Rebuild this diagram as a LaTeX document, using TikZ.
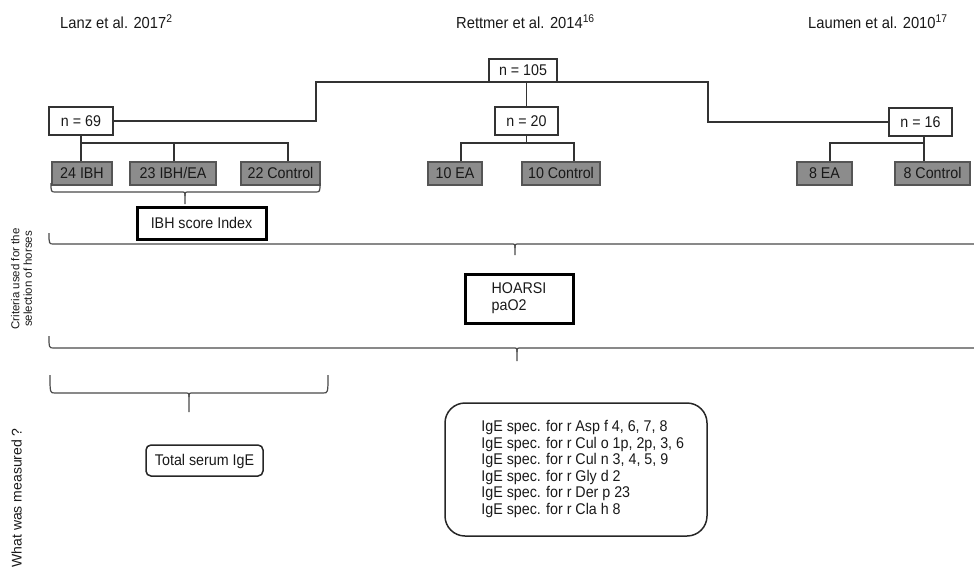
\documentclass[tikz,border=0pt]{standalone}
\usepackage{fontspec}
\usepackage{graphicx}
\setmainfont{Liberation Sans}
\definecolor{boxgrey}{HTML}{8C8C8C}
\definecolor{boxedge}{HTML}{555555}
\definecolor{lncol}{HTML}{333333}
\definecolor{brcol}{HTML}{4A4A4A}
\newcommand{\sq}[1]{\scalebox{0.92}[1]{#1}}
\newcommand{\mybrace}[6]{%
  \draw[brc] (#1,#3) .. controls (#1,#4) .. ({#1+5},#4) -- ({#5-4},#4)
    .. controls (#5,#4) .. (#5,{#4+4}) -- (#5,#6);
  \draw[brc] (#5,{#4+4}) .. controls (#5,#4) .. ({#5+4},#4) -- ({#2-5},#4)
    .. controls (#2,#4) .. (#2,#3);}
\tikzset{
  txt/.style={font=\fontsize{15.5}{17}\selectfont, text=black!90},
  oneline/.style={text height=11pt, text depth=1pt},
  wbox/.style={txt, oneline, draw=lncol, line width=1.2pt, fill=white, inner sep=0pt},
  gbox/.style={txt, oneline, draw=boxedge, line width=1.1pt, fill=boxgrey, inner sep=0pt, minimum height=23pt},
  ln/.style={draw=lncol, line width=1.2pt},
  brc/.style={draw=brcol, line width=1.2pt},
  thickbox/.style={txt, draw=black, line width=3pt, inner sep=0pt},
  rbox/.style={txt, draw=black!85, line width=1.5pt, rounded corners, inner sep=0pt},
}
\begin{document}
\begin{tikzpicture}[x=1pt,y=-1pt]
\useasboundingbox (0,0) rectangle (974,566);
% titles
\node[txt, anchor=west, inner sep=0pt, font=\fontsize{16}{18}\selectfont] (t1) at (60,22) {\sq{Lanz et al. 2017\textsuperscript{2}}};
\node[txt, anchor=west, inner sep=0pt, font=\fontsize{16}{18}\selectfont] (t2) at (456,22) {\sq{Rettmer et al. 2014\textsuperscript{16}}};
\node[txt, anchor=west, inner sep=0pt, font=\fontsize{16}{18}\selectfont] (t3) at (808,22) {\sq{Laumen et al. 2010\textsuperscript{17}}};
% count boxes
\node[wbox, minimum width=68pt, minimum height=23pt] (n105) at (523,70.5) {\sq{n = 105}};
\node[wbox, minimum width=63pt, minimum height=28pt] (n20) at (526.5,121) {\sq{n = 20}};
\node[wbox, minimum width=64pt, minimum height=28pt] (n69) at (81,121) {\sq{n = 69}};
\node[wbox, minimum width=63pt, minimum height=28pt] (n16) at (920.5,122) {\sq{n = 16}};
% group boxes
\node[gbox, minimum width=60pt] (ibh) at (82,173.5) {\sq{24 IBH}};
\node[gbox, minimum width=86pt] (ibhea) at (173,173.5) {\sq{23 IBH/EA}};
\node[gbox, minimum width=79pt] (ctl1) at (280.5,173.5) {\sq{22 Control}};
\node[gbox, minimum width=54pt] (ea1) at (455,173.5) {\sq{10 EA}};
\node[gbox, minimum width=78pt] (ctl2) at (561,173.5) {\sq{10 Control}};
\node[gbox, minimum width=55pt] (ea2) at (824.5,173.5) {\sq{8 EA}};
\node[gbox, minimum width=75pt] (ctl3) at (932.5,173.5) {\sq{8 Control}};
% tree connectors
\coordinate (cL) at (316,82);
\coordinate (cR) at (708,82);
\draw[ln] (n69.east) -| (cL) -- (cR) |- (n16.west);
\draw[ln] (n20.north) -- (n20.north |- n105.south);
% n20 children
\coordinate (j20) at (526.5,143);
\draw[ln] (n20.south) -- (j20);
\draw[ln] ([xshift=6pt]ea1.north) |- (j20) -| ([xshift=13pt]ctl2.north);
% n69 children
\coordinate (j69) at (81,143);
\draw[ln] ([xshift=-1pt]ibh.north) -- (n69.south);
\draw[ln] (j69) -| ([xshift=1pt]ibhea.north);
\draw[ln] (j69) -| ([xshift=7.5pt]ctl1.north);
% n16 children
\coordinate (j16) at (924,143);
\draw[ln] ([xshift=3.5pt]n16.south) -- ([xshift=-8.5pt]ctl3.north);
\draw[ln] (j16) -| ([xshift=5.5pt]ea2.north);
% braces
\mybrace{51}{320}{183}{192}{185}{204}
\mybrace{49}{1010}{233}{244}{515}{255}
\mybrace{49}{1010}{336}{348}{517}{361}
\mybrace{50}{328}{375}{393}{189}{412}
% criteria
\node[thickbox, oneline, minimum width=129pt, minimum height=32pt] (ibhs) at (201.5,223) {\sq{IBH score Index}};
\node[thickbox, minimum width=108pt, minimum height=49pt] (hoarsi) at (519,298.5) {\sq{\begin{tabular}{@{}l@{}}HOARSI\\paO2\end{tabular}}};
% measured
\node[rbox, oneline, rounded corners=5pt, minimum width=117pt, minimum height=31pt] (tige) at (204.5,460.5) {\sq{Total serum IgE}};
\node[rbox, rounded corners=20pt, minimum width=262pt, minimum height=133pt] (spec) at (576,469.5) {};
\node[txt, anchor=west, inner sep=0pt, font=\fontsize{15.5}{16.5}\selectfont] (spectxt) at ([xshift=37pt]spec.west) {\sq{\begin{tabular}{@{}l@{}}IgE spec. for r Asp f 4, 6, 7, 8\\
IgE spec. for r Cul o 1p, 2p, 3, 6\\
IgE spec. for r Cul n 3, 4, 5, 9\\
IgE spec. for r Gly d 2\\
IgE spec. for r Der p 23\\
IgE spec. for r Cla h 8\end{tabular}}};
% side labels
\node[rotate=90, align=center, inner sep=0pt, text=black!90, font=\fontsize{11.5}{12.5}\selectfont] (crit) at (21.5,279) {Criteria used for the\\selection of horses};
\node[rotate=90, anchor=east, inner sep=0pt, txt, font=\fontsize{14}{16}\selectfont] (meas) at (16.5,428) {What was measured ?};
\end{tikzpicture}
\end{document}
